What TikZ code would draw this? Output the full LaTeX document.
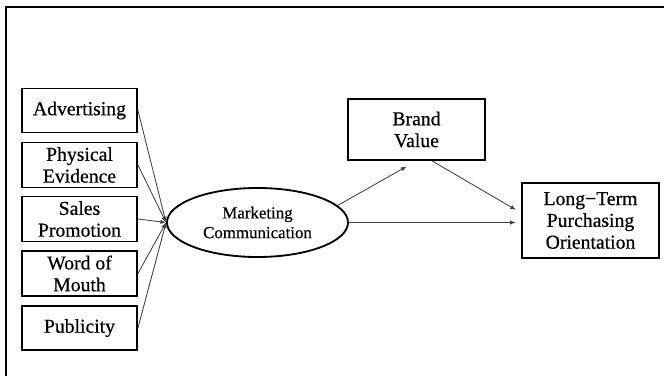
\documentclass[tikz,border=0pt]{standalone}
\usepackage{fontspec}
\setmainfont{Liberation Serif}
\newfontfamily\labelfont{Liberation Serif}[FakeBold=0.5]
\usetikzlibrary{arrows.meta,shapes.geometric}
\tikzset{
  factor/.style={draw, line width=1.3pt, minimum width=2.875cm, minimum height=1.1cm,
    align=center, font=\labelfont\fontsize{14}{15.5}\selectfont},
  result/.style={draw, line width=1.3pt, minimum width=3.425cm,
    align=center, font=\labelfont\fontsize{14}{15.5}\selectfont},
  link/.style={draw=black!75, line width=0.6pt, -{Latex[length=4pt,width=3pt]}}
}
\begin{document}
\begin{tikzpicture}[x=0.025cm, y=-0.025cm]
  \useasboundingbox (0,0) rectangle (664,375);

  % Frame
  \draw[line width=1.3pt] (6,380) -- (6,7) -- (670,7);

  % Marketing mix
  \node[factor] (adv) at (79.5,110.5) {Advertising};
  \node[factor] (phy) at (79.5,165) {Physical\\Evidence};
  \node[factor] (sal) at (79.5,219) {Sales\\Promotion};
  \node[factor] (wom) at (79.5,273.5) {Word of\\Mouth};
  \node[factor] (pub) at (79.5,328) {Publicity};

  % Marketing Communication
  \node[draw, ellipse, line width=1.3pt, minimum width=4.525cm, minimum height=1.725cm,
    inner sep=0pt, align=center, font=\labelfont\fontsize{12}{14}\selectfont] (mc) at (257.5,222.5)
    {Marketing\\Communication};

  % Outcomes
  \node[result, minimum height=1.525cm] (bv) at (416.5,129.5) {Brand\\Value};
  \node[result, minimum height=1.875cm] (lt) at (590.5,220.5) {Long−Term\\Purchasing\\Orientation};

  % Paths
  \foreach \f in {adv,phy,sal,wom,pub}
    \draw[link] (\f.east) -- (mc.west);
  \draw[link, shorten >=0.28cm] (mc.12) -- (bv.south);
  \draw[link, shorten >=0.15cm] ([xshift=0.39cm]bv.south) -- ([yshift=0.19cm]lt.west);
  \draw[link, shorten >=0.13cm] (mc.east) -- (mc.east -| lt.west);

\end{tikzpicture}
\end{document}
